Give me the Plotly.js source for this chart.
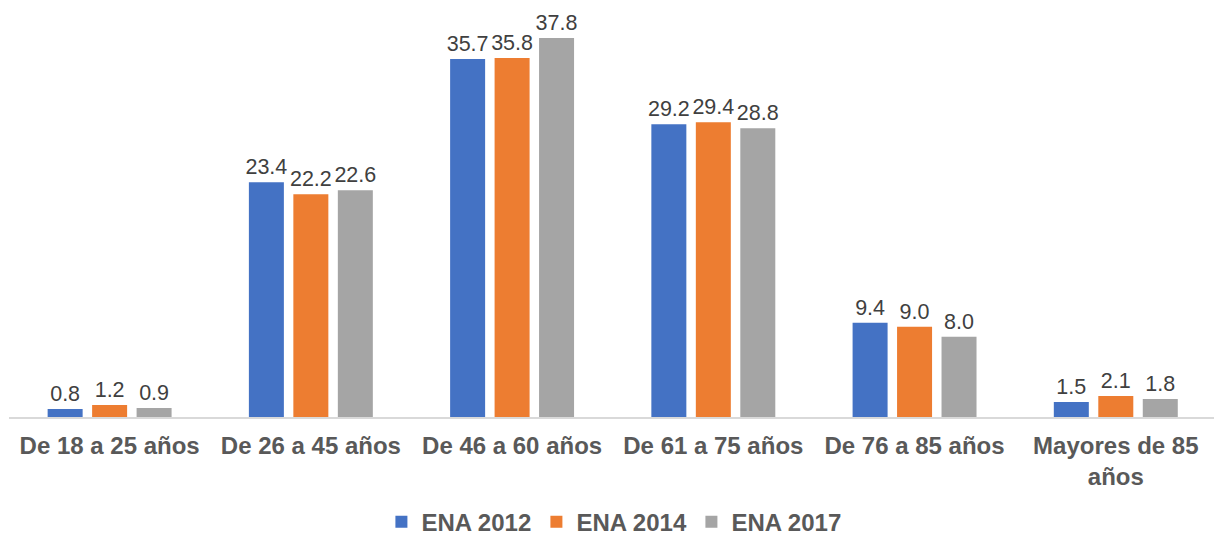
<!DOCTYPE html>
<html>
<head>
<meta charset="utf-8">
<script src="https://cdn.plot.ly/plotly-3.0.1.min.js"></script>
<style>
  html, body { margin: 0; padding: 0; background: #fff; }
  #chart { width: 1214px; height: 535px; }
</style>
</head>
<body>
<div id="chart"></div>
<script>
const categories = [
  "De 18 a 25 años",
  "De 26 a 45 años",
  "De 46 a 60 años",
  "De 61 a 75 años",
  "De 76 a 85 años",
  "Mayores de 85<br>años"
];
const seriesNames = ["ENA 2012", "ENA 2014", "ENA 2017"];
const ena2012 = [0.8, 23.4, 35.7, 29.2, 9.4, 1.5];
const ena2014 = [1.2, 22.2, 35.8, 29.4, 9.0, 2.1];
const ena2017 = [0.9, 22.6, 37.8, 28.8, 8.0, 1.8];
const colors = ["#4472C4", "#ED7D31", "#A5A5A5"];

const font = "Liberation Sans, Arial, sans-serif";

const traces = [ena2012, ena2014, ena2017].map((vals, i) => ({
  x: categories,
  y: vals,
  type: "bar",
  name: seriesNames[i],
  marker: { color: colors[i] },
  text: vals.map(v => v.toFixed(1)),
  textposition: "outside",
  constraintext: "none",
  cliponaxis: false,
  textfont: { family: font, size: 21.5, color: "#404040" },
  hoverinfo: "x+y+name"
}));

Plotly.newPlot(
  "chart",
  traces,
  {
    width: 1214,
    height: 535,
    margin: { t: 0, l: 9, r: 0, b: 118, autoexpand: false },
    paper_bgcolor: "#ffffff",
    plot_bgcolor: "#ffffff",
    font: { family: font, color: "#595959" },
    barmode: "group",
    bargap: 0.337,
    bargroupgap: 0.213,
    showlegend: true,

    xaxis: {
      type: "category",
      range: [-0.5, 5.488],
      automargin: false,
      showline: true,
      linecolor: "#d9d9d9",
      linewidth: 1.5,
      showgrid: false,
      ticks: "",
      ticklabelstandoff: 6,
      tickfont: { family: font, size: 24, color: "#595959", weight: "bold" }
    },

    yaxis: {
      range: [0, 41.58],
      visible: false,
      showgrid: false,
      zeroline: false
    },

    legend: {
      orientation: "h",
      x: 0.502,
      xanchor: "center",
      yref: "container",
      y: 0.024,
      yanchor: "middle",
      entrywidth: 110,
      font: { family: font, size: 24, color: "#595959", weight: "bold" }
    }
  },
  { displayModeBar: false }
);
</script>
</body>
</html>
